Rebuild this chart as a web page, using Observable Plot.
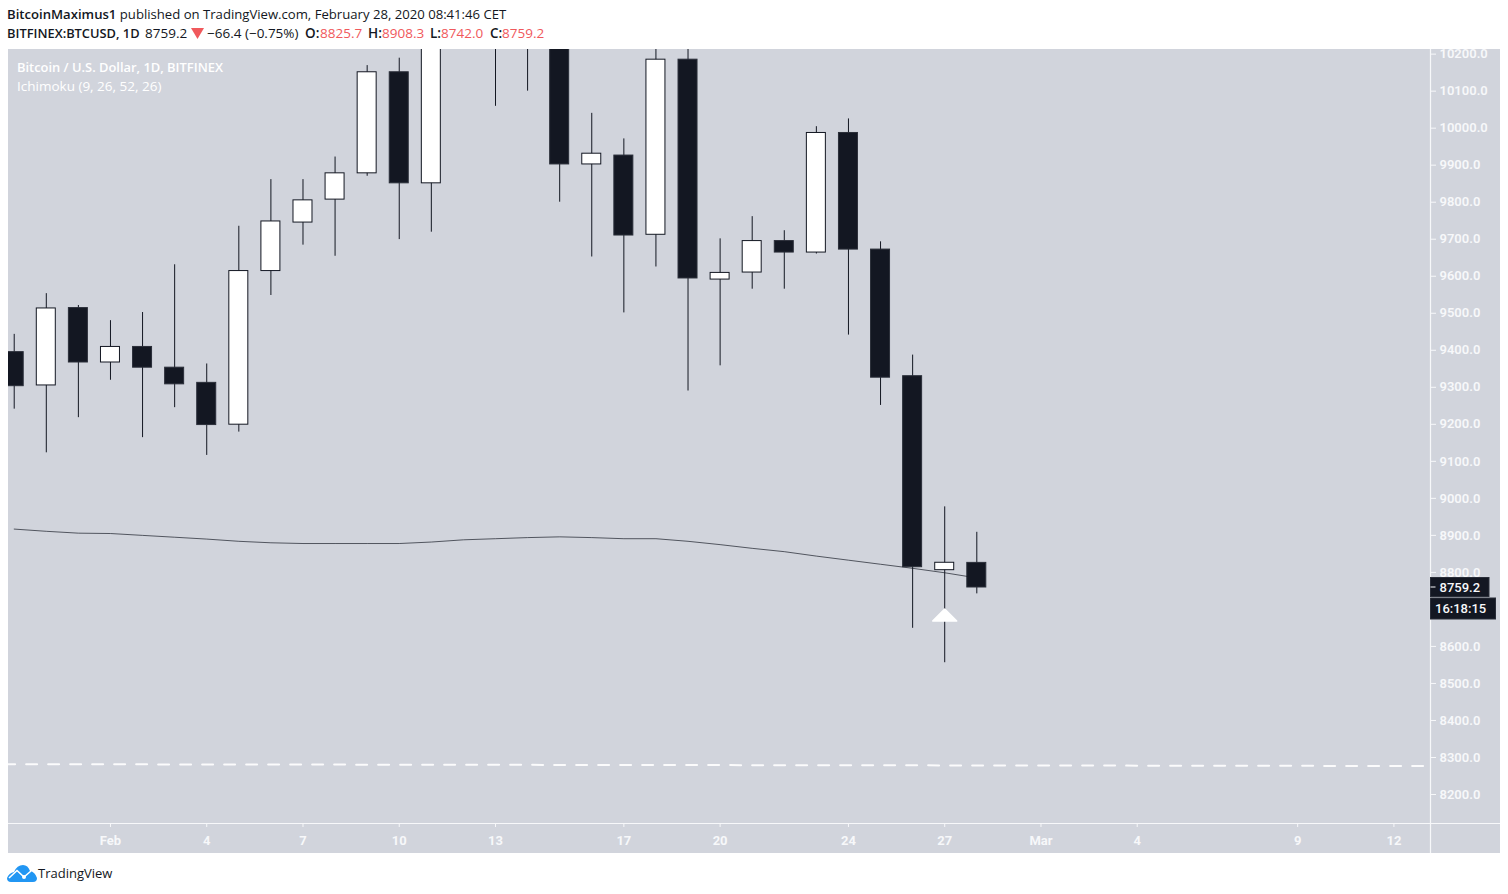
<!DOCTYPE html>
<html><head><meta charset="utf-8">
<script src="https://cdn.jsdelivr.net/npm/d3@7"></script>
<script src="https://cdn.jsdelivr.net/npm/@observablehq/plot@0.6"></script>
<style>
html,body{margin:0;padding:0;background:#fff;width:1508px;height:894px;overflow:hidden}
#chart{position:absolute;left:8px;top:49px}
#chart svg{display:block;background:#d1d4dc}
.hd{position:absolute;left:7px;font:13.13px "Open Sans",sans-serif;color:#131722;white-space:nowrap;line-height:18px}
.hd b{font-weight:600}
.l2{position:absolute;top:24px;font:13.5px "Open Sans",sans-serif;color:#131722;white-space:nowrap;line-height:18px}
.lb{font-weight:600}.val{color:#f0595c}
#brand{position:absolute;left:7px;top:863px;height:20px;display:flex;align-items:center;font:13px "Open Sans",sans-serif;color:#131722}
</style></head><body>
<div class="hd" style="top:5px"><b>BitcoinMaximus1</b> published on TradingView.com, February 28, 2020 08:41:46 CET</div>
<span class="l2 lb" style="left:7px;font-size:12.85px">BITFINEX:BTCUSD, 1D</span>
<span class="l2" style="left:145px">8759.2</span>
<svg style="position:absolute;left:191px;top:28px" width="13" height="11"><path d="M0 0H13L6.5 11Z" fill="#f0595c"/></svg>
<span class="l2" style="left:207px">−66.4 (−0.75%)</span>
<span class="l2 lb" style="left:305px">O:</span><span class="l2 val" style="left:320px">8825.7</span>
<span class="l2 lb" style="left:368px">H:</span><span class="l2 val" style="left:382px">8908.3</span>
<span class="l2 lb" style="left:430px">L:</span><span class="l2 val" style="left:441px">8742.0</span>
<span class="l2 lb" style="left:490px">C:</span><span class="l2 val" style="left:502px">8759.2</span>
<div id="chart"></div>
<div id="brand"><svg width="30" height="18" viewBox="0 0 30 18" style="margin-right:1px"><path d="M0 14 Q2 9 7 8 Q10 1 16 1 Q21 1 23 7 Q28 8 30 14 Q30 18 26 18 L4 18 Q0 18 0 14Z" fill="#2196f3"/><path d="M2 14 L10 6.5 L17 13 L24 7" fill="none" stroke="#fff" stroke-width="1.6"/><circle cx="17" cy="13" r="2" fill="#fff"/></svg>TradingView</div>
<script>
const DAY = 864e5;
const day = (m, d) => new Date(Date.UTC(2020, m, d));
const firstDay = day(0, 29);
const opens  = [9395,9305,9514,9367,9409,9353,9312,9199,9614,9745,9807,9878,10151,9851,10280,10370,10240,10370,9902,9926,9712,10185,9591,9610,9695,9664,9987,9672,9330,8806,8825.7];
const highs  = [9443,9553,9521,9480,9502,9631,9363,9735,9861,9861,9922,10169,10189,10300,10490,10520,10400,10400,10040,9971,10250,10300,9701,9761,9723,10004,10025,9693,9387,8977,8908.3];
const lows   = [9241,9123,9218,9319,9164,9245,9116,9179,9548,9684,9654,9870,9699,9719,10260,10059,10100,9800,9652,9501,9625,9290,9358,9565,9565,9660,9441,9251,8649,8556,8742.0];
const closes = [9303,9513,9367,9409,9353,9308,9198,9614,9748,9805,9878,10151,9851,10280,10370,10240,10370,9902,9931,9710,10185,9594,9609,9695,9664,9987,9672,9326,8814,8826,8759.2];
const ichimoku = [8917,8911,8906,8905,8900,8895,8890,8884,8880,8878,8878,8878,8878,8882,8888,8891,8894,8896,8894,8891,8891,8884,8875,8865,8856,8844,8833,8822,8811,8799,8785];
const tickDays = [[1,1],[1,4],[1,7],[1,10],[1,13],[1,17],[1,20],[1,24],[1,27],[2,1],[2,4],[2,9],[2,12]];
const tickLabels = ["Feb","4","7","10","13","17","20","24","27","Mar","4","9","12"];
const priceTicks = [8200,8300,8400,8500,8600,8800,8900,9000,9100,9200,9300,9400,9500,9600,9700,9800,9900,10000,10100,10200];
const supportDates = [day(0,28), day(2,13)];
const supportValues = [8282, 8277];
const arrowDate = day(1,27), arrowPrice = 8685;
const lastPrice = 8759.2, countdown = "16:18:15";

const dates = opens.map((_, i) => new Date(+firstDay + i * DAY));
const candles = dates.map((date, i) => ({date, o: opens[i], h: highs[i], l: lows[i], c: closes[i], up: closes[i] >= opens[i], m: ichimoku[i]}));
const support = supportDates.map((date, i) => ({date, v: supportValues[i]}));
const ticks = tickDays.map(([m, d]) => day(m, d));
const labelOf = new Map(ticks.map((t, i) => [+t, tickLabels[i]]));
const half = 0.296 * DAY;
const axisColor = "#f7f8fa";
const feb1 = +day(1,1);

function frameLines(i, s, v, dim) {
  const g = d3.create("svg:g").attr("stroke", "#f7f8fa").attr("stroke-width", 1.2);
  const rx = dim.width - dim.marginRight + 0.5, by = dim.height - dim.marginBottom + 0.5;
  g.append("line").attr("x1", rx).attr("x2", rx).attr("y1", 0).attr("y2", dim.height);
  g.append("line").attr("x1", 0).attr("x2", dim.width).attr("y1", by).attr("y2", by);
  return g.node();
}
function priceTags(i, s, v, dim) {
  const g = d3.create("svg:g").attr("font-family", "Roboto, sans-serif").attr("font-size", 13).attr("font-weight", 500).attr("text-anchor", "start");
  const x0 = dim.width - dim.marginRight + 0.5, y = s.y(lastPrice);
  const tag = (top, w, h, text, tx) => {
    g.append("rect").attr("x", x0).attr("y", top).attr("width", w).attr("height", h).attr("fill", "#131722").attr("stroke", "#2a2e39");
    g.append("text").attr("x", x0 + tx).attr("y", top + h / 2).attr("dy", "0.35em").attr("fill", "#f7f8fa").text(text);
  };
  tag(y - 9.5, 58.5, 19, lastPrice.toFixed(1), 9);
  g.append("line").attr("x1", x0).attr("x2", x0 + 5).attr("y1", y).attr("y2", y).attr("stroke", "#f7f8fa");
  tag(y + 11, 65, 21, countdown, 4.5);
  return g.node();
}
const arrowSymbol = {draw(ctx, size) {
  const r = Math.sqrt(size / Math.PI);
  ctx.moveTo(0, -r * 0.5); ctx.lineTo(r, r * 0.5); ctx.lineTo(-r, r * 0.5); ctx.closePath();
}};

const plot = Plot.plot({
  width: 1492, height: 804,
  marginLeft: 0, marginTop: 0, marginRight: 70, marginBottom: 30,
  style: {background: "#d1d4dc", fontFamily: "Roboto, sans-serif", overflow: "hidden"},
  x: {type: "utc", domain: [new Date(feb1 - 3.178 * DAY), new Date(feb1 + 41.14 * DAY)]},
  y: {domain: [8121.7, 10212.5]},
  marks: [
    Plot.ruleX(candles, {x: "date", y1: "l", y2: "h", stroke: "#131722", strokeWidth: 1, clip: true}),
    Plot.rect(candles, {x1: d => new Date(+d.date - half), x2: d => new Date(+d.date + half), y1: "o", y2: "c",
      fill: d => d.up ? "#ffffff" : "#131722", stroke: d => d.up ? "#131722" : "#2a2e39", strokeWidth: 1, clip: true, inset: 0}),
    Plot.line(candles, {x: "date", y: "m", stroke: "#131722", strokeWidth: 0.8, strokeOpacity: 0.85, clip: true}),
    Plot.line(support, {x: "date", y: "v", stroke: "#ffffff", strokeWidth: 2, strokeOpacity: 0.9, strokeDasharray: "11,11", clip: true}),
    Plot.dot([{date: arrowDate, v: arrowPrice}], {x: "date", y: "v", r: 12, symbol: arrowSymbol, fill: "#ffffff", stroke: "#ffffff", strokeWidth: 1.5, strokeLinejoin: "round"}),
    Plot.axisY({anchor: "right", ticks: priceTicks, tickFormat: d => d.toFixed(1), tickSize: 5, tickPadding: 4,
      stroke: axisColor, fill: axisColor, fontSize: 13, fontWeight: 600, label: null}),
    Plot.axisX({anchor: "bottom", ticks, tickFormat: d => labelOf.get(+d), tickSize: 4, tickPadding: 8,
      stroke: axisColor, fill: axisColor, fontSize: 13, fontWeight: 700, label: null}),
    frameLines,
    priceTags,
    Plot.text(["Bitcoin / U.S. Dollar, 1D, BITFINEX"], {frameAnchor: "top-left", dx: 8.5, dy: 13, fill: "#ffffff", fontSize: 12.9, fontWeight: 600, fontFamily: "Open Sans", lineAnchor: "top"}),
    Plot.text(["Ichimoku (9, 26, 52, 26)"], {frameAnchor: "top-left", dx: 8.5, dy: 32, fill: "#ffffff", fontSize: 13.5, fontFamily: "Open Sans", lineAnchor: "top"})
  ]
});
document.getElementById("chart").append(plot);
</script>
</body></html>
